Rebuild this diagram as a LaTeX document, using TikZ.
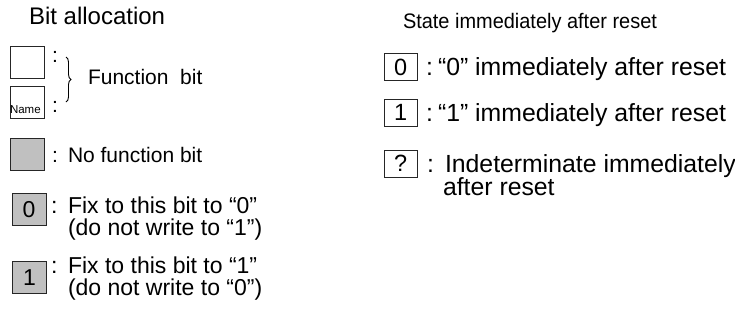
\documentclass[tikz,border=0pt]{standalone}
\usepackage{fontspec}
\setmainfont{Liberation Sans}
\usetikzlibrary{decorations.pathreplacing}
\definecolor{bitgray}{RGB}{192,192,192}
\newcommand{\fs}[1]{\fontsize{#1}{#1}\selectfont}
\begin{document}
\begin{tikzpicture}[x=1pt,y=-1pt,
  lbl/.style={anchor=base west,inner sep=0pt,outer sep=0pt,text=black},
  bitbox/.style={draw=black!85,line width=1.1pt,minimum width=34pt,minimum height=32pt,inner sep=0pt,anchor=north west},
  greybox/.style={bitbox,fill=bitgray},
  resetbox/.style={draw=black!85,line width=1.1pt,minimum width=33pt,minimum height=27pt,inner sep=0pt,anchor=north west}]
\useasboundingbox (0,0) rectangle (735,322);

% ---- left column: bit allocation
\node[lbl,font=\fs{24}] (h1) at (29,24) {Bit allocation};

\node[bitbox] (fb1) at (9.5,45.5) {};
\node[bitbox] (fb2) at (9.5,86) {};
\node[lbl,font=\fs{11.5}] (nm) at (10,113) {Name};
\node[lbl,font=\fs{21}] (c1) at (52,62) {:};
\node[lbl,font=\fs{21}] (c2) at (52,112) {:};
\coordinate (brt) at (66,57);
\coordinate (brb) at (66,102);
\draw[line width=0.9pt,decorate,decoration={brace,amplitude=5pt}] (brt) -- (brb);
\node[lbl,font=\fs{21}] (fbt) at (88,84) {Function\ \ bit};

\node[greybox] (nf) at (10,137.5) {};
\node[lbl,font=\fs{21}] (c3) at (52,162) {:};
\node[lbl,font=\fs{21}] (nft) at (68,162) {No function bit};

\node[greybox,font=\fs{23}] (z0) at (11.5,193) {0};
\node[lbl,font=\fs{23}] (c4) at (51,213) {:};
\node[lbl,font=\fs{23}] (z0a) at (68,213) {Fix to this bit to “0”};
\node[lbl,font=\fs{23}] (z0b) at (68,235.5) {(do not write to “1”)};

\node[greybox,font=\fs{23}] (o1) at (12,261) {1};
\node[lbl,font=\fs{23}] (c5) at (51,273) {:};
\node[lbl,font=\fs{23}] (o1a) at (68,273) {Fix to this bit to “1”};
\node[lbl,font=\fs{23}] (o1b) at (68,295.5) {(do not write to “0”)};

% ---- right column: state immediately after reset
\node[lbl,font=\fs{21},xscale=0.95] (h2) at (403,28) {State immediately after reset};

\node[resetbox,font=\fs{23.5}] (r0) at (383.5,53) {0};
\node[lbl,font=\fs{24.8}] (c6) at (426,75) {:};
\node[lbl,font=\fs{24.8}] (r0t) at (438,75) {“0” immediately after reset};

\node[resetbox,font=\fs{23.5}] (r1) at (383.5,98.5) {1};
\node[lbl,font=\fs{24.8}] (c7) at (426,121) {:};
\node[lbl,font=\fs{24.8}] (r1t) at (438,121) {“1” immediately after reset};

\node[resetbox,font=\fs{23.5}] (rq) at (383.5,149.5) {?};
\node[lbl,font=\fs{24.8}] (c8) at (427,172) {:};
\node[lbl,font=\fs{24.8}] (rqt) at (445,172) {Indeterminate immediately};
\node[lbl,font=\fs{24.8}] (rqu) at (443,195) {after reset};
\end{tikzpicture}
\end{document}
